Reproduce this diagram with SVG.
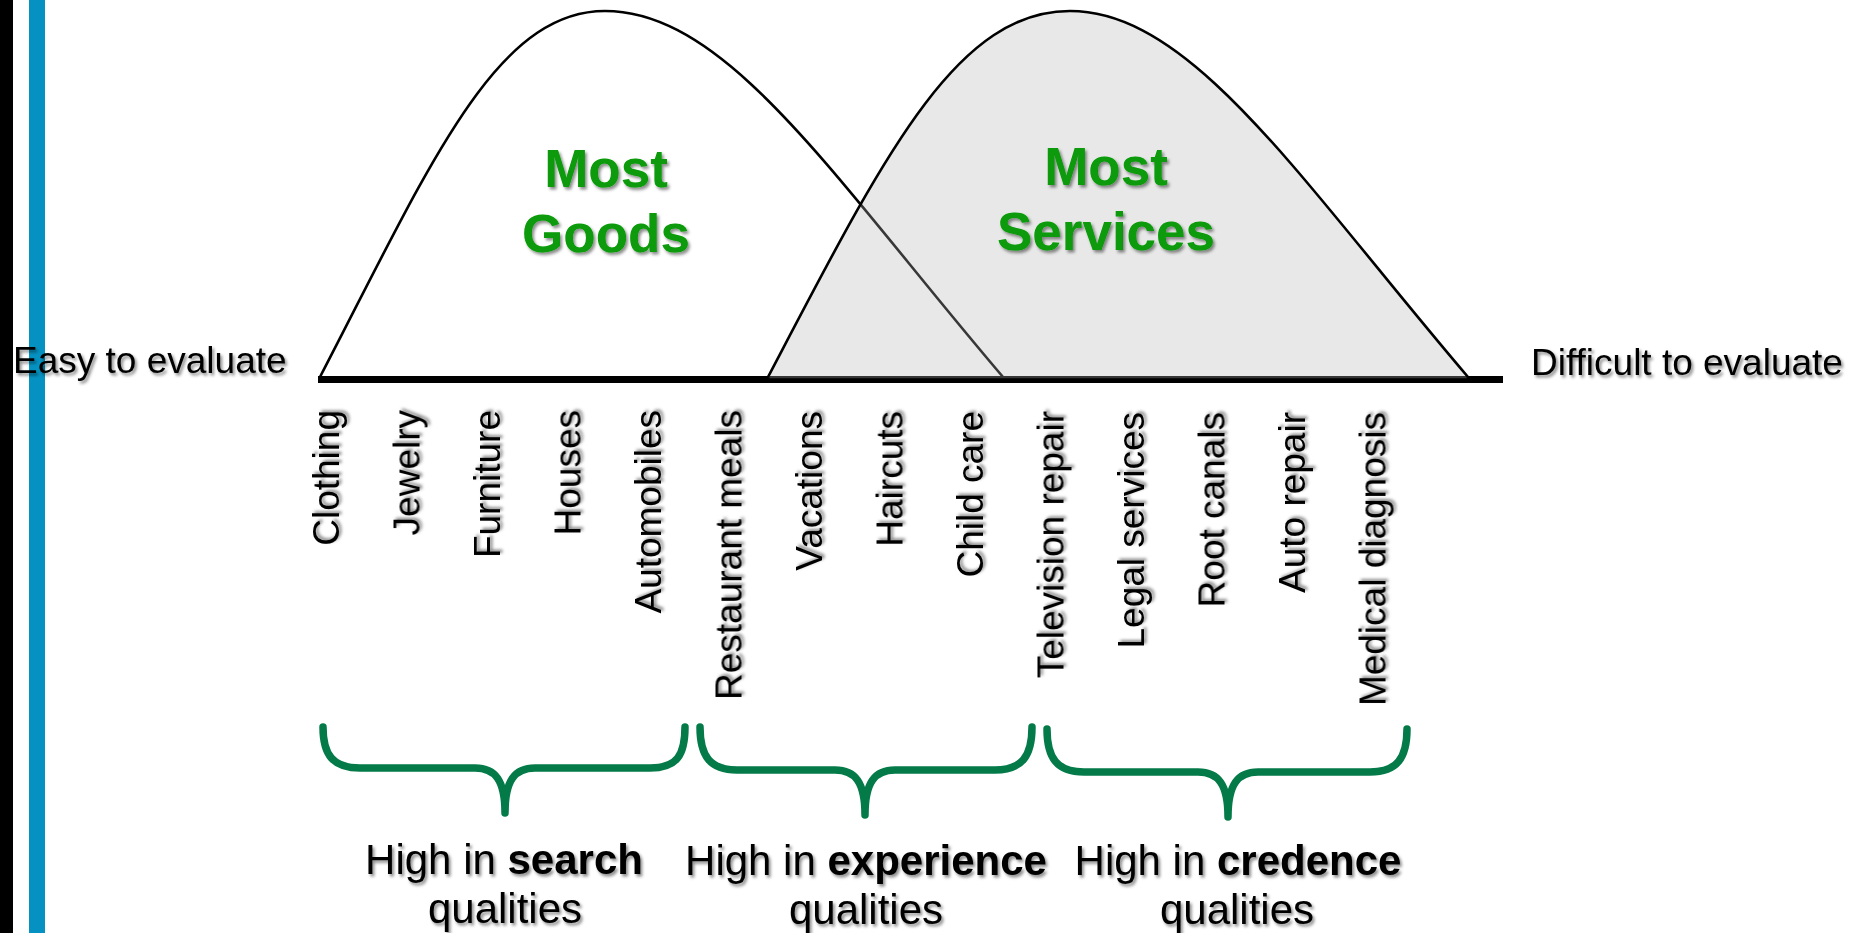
<svg xmlns="http://www.w3.org/2000/svg" width="1855" height="933" viewBox="0 0 1855 933">
  <defs>
    <filter id="shadow" x="-10%" y="-20%" width="130%" height="150%">
      <feDropShadow dx="2" dy="2.5" stdDeviation="1.6" flood-color="#000" flood-opacity="0.45"/>
    </filter>
  </defs>
  <style>
    text { font-family: "Liberation Sans", Arial, sans-serif; fill: #000; filter: url(#shadow); }
    .axis { font-size: 37px; }
    .item { font-size: 37px; }
    .big { font-size: 53px; font-weight: bold; fill: #079a07; }
    .quality { font-size: 42px; }
    .quality tspan.b { font-weight: bold; }
    .curve { stroke: #000; stroke-width: 2.6; fill: none; }
    .services { fill: rgb(180,180,180); fill-opacity: 0.31; stroke: #000; stroke-width: 2.6; }
    .brace { fill: none; stroke: #037a48; stroke-width: 7.5; stroke-linecap: round; stroke-linejoin: round; }
  </style>

  <rect width="1855" height="933" fill="#fff"/>

  <!-- page edge bars -->
  <rect x="0" y="0" width="13" height="933" fill="#000"/>
  <rect x="29" y="0" width="16" height="933" fill="#0592c2"/>

  <!-- distribution curves and axis -->
  <g id="goods-curve">
    <path class="curve" d="M320,377 C430,165 495,11 605,11 C728,11 835,180 1003,377"/>
  </g>
  <g id="axis">
    <line x1="318" y1="379.5" x2="1503" y2="379.5" stroke="#000" stroke-width="7"/>
  </g>
  <g id="services-curve">
    <path class="services" d="M768,377 C883,158 955,11 1070,11 C1192,11 1300,180 1468,377 L1468,379.5 L768,379.5 Z"/>
  </g>

  <g id="goods-label">
    <text class="big" x="606" y="187" text-anchor="middle">Most</text>
    <text class="big" x="606" y="252" text-anchor="middle">Goods</text>
  </g>
  <g id="services-label">
    <text class="big" x="1106" y="185" text-anchor="middle">Most</text>
    <text class="big" x="1106" y="250" text-anchor="middle">Services</text>
  </g>

  <g id="axis-ends">
    <text class="axis" x="13" y="373">Easy to evaluate</text>
    <text class="axis" x="1531" y="375">Difficult to evaluate</text>
  </g>

  <!-- examples along the axis -->
  <g id="items">
    <text class="item" transform="translate(339,410) rotate(-90)" text-anchor="end">Clothing</text>
    <text class="item" transform="translate(419.5,410) rotate(-90)" text-anchor="end">Jewelry</text>
    <text class="item" transform="translate(500,410) rotate(-90)" text-anchor="end">Furniture</text>
    <text class="item" transform="translate(580.5,410) rotate(-90)" text-anchor="end">Houses</text>
    <text class="item" transform="translate(661,410) rotate(-90)" text-anchor="end">Automobiles</text>
    <text class="item" transform="translate(741.5,410) rotate(-90)" text-anchor="end">Restaurant meals</text>
    <text class="item" transform="translate(822,411) rotate(-90)" text-anchor="end">Vacations</text>
    <text class="item" transform="translate(902.5,411) rotate(-90)" text-anchor="end">Haircuts</text>
    <text class="item" transform="translate(983,411) rotate(-90)" text-anchor="end">Child care</text>
    <text class="item" transform="translate(1063.5,411) rotate(-90)" text-anchor="end">Television repair</text>
    <text class="item" transform="translate(1144,412) rotate(-90)" text-anchor="end">Legal services</text>
    <text class="item" transform="translate(1224.5,412) rotate(-90)" text-anchor="end">Root canals</text>
    <text class="item" transform="translate(1305,412) rotate(-90)" text-anchor="end">Auto repair</text>
    <text class="item" transform="translate(1385.5,412) rotate(-90)" text-anchor="end">Medical diagnosis</text>
  </g>

  <!-- grouping braces -->
  <g id="connectors">
    <path class="brace" d="M323,727 C323,755 333,768 360,768 L475,768 C495,768 505,780 505,813 C505,780 515,768 535,768 L650,768 C677,768 685,755 685,727"/>
    <path class="brace" d="M700,727 C700,756 710,770 737,770 L835,770 C855,770 865,782 865,815 C865,782 875,770 895,770 L995,770 C1022,770 1032,756 1032,727"/>
    <path class="brace" d="M1047,729 C1047,758 1057,772 1084,772 L1198,772 C1218,772 1228,784 1228,817 C1228,784 1238,772 1258,772 L1370,772 C1397,772 1407,758 1407,729"/>
  </g>

  <g id="search">
    <text class="quality" x="504" y="874" text-anchor="middle">High in <tspan class="b">search</tspan></text>
    <text class="quality" x="505" y="923" text-anchor="middle">qualities</text>
  </g>
  <g id="experience">
    <text class="quality" x="866" y="875" text-anchor="middle">High in <tspan class="b">experience</tspan></text>
    <text class="quality" x="866" y="924" text-anchor="middle">qualities</text>
  </g>
  <g id="credence">
    <text class="quality" x="1238" y="875" text-anchor="middle">High in <tspan class="b">credence</tspan></text>
    <text class="quality" x="1237" y="924" text-anchor="middle">qualities</text>
  </g>
</svg>
